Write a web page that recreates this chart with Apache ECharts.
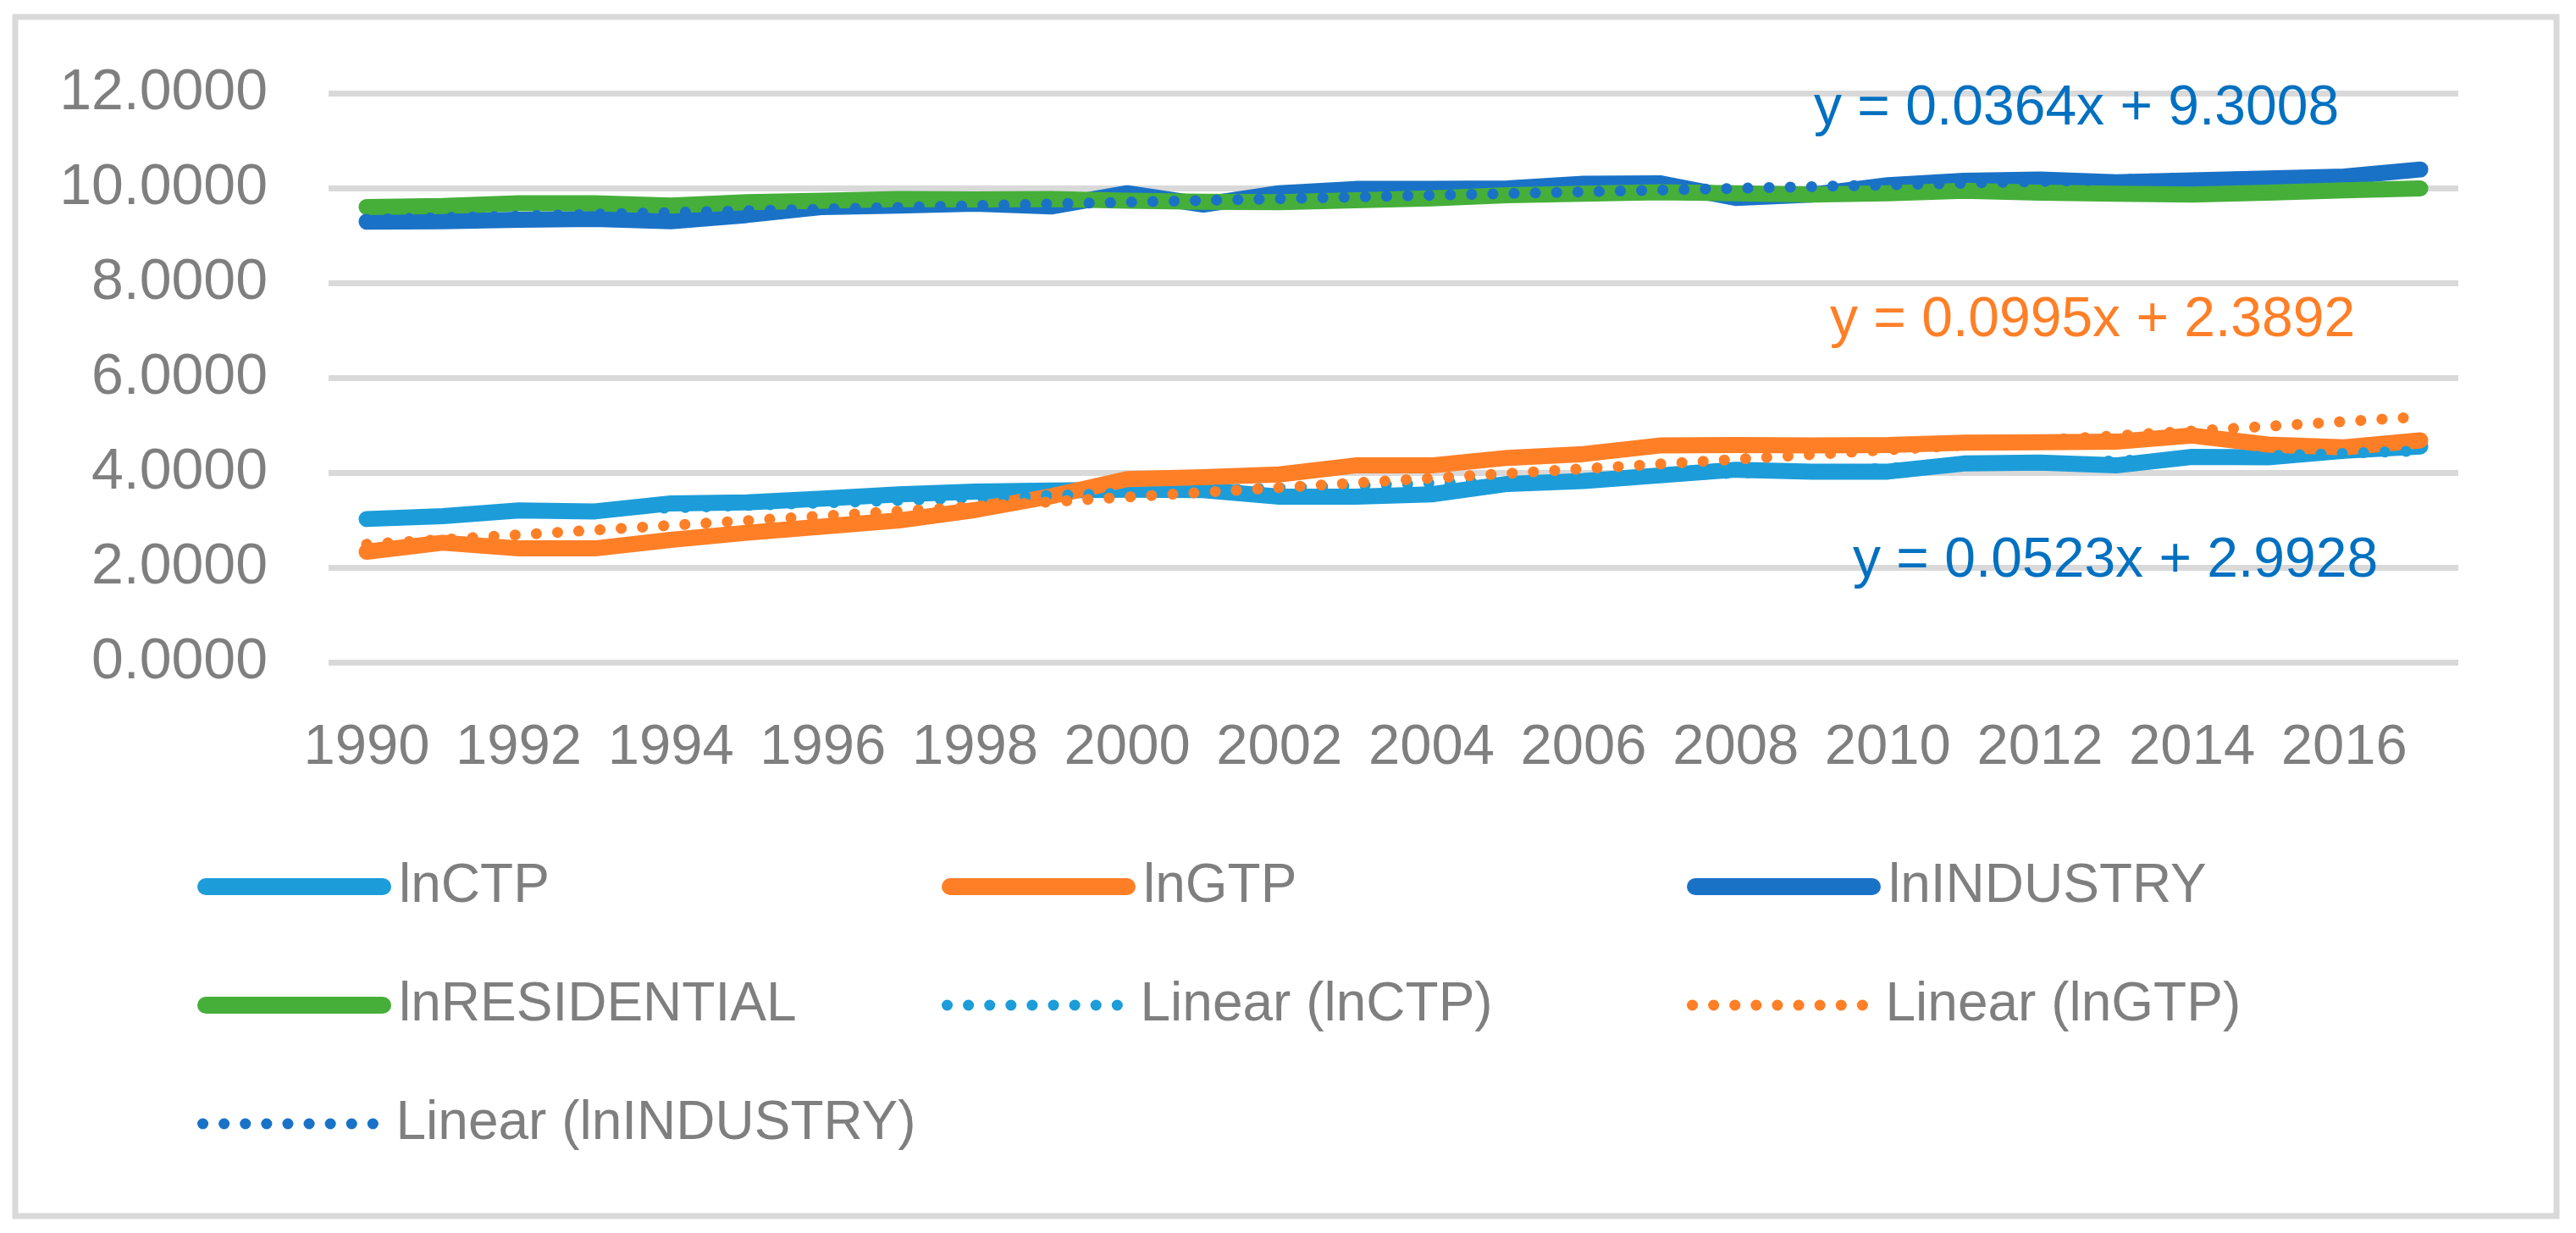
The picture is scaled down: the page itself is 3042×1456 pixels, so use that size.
<!DOCTYPE html>
<html>
<head>
<meta charset="utf-8">
<script src="https://cdn.jsdelivr.net/npm/echarts@6/dist/echarts.min.js"></script>
<style>
html,body{margin:0;padding:0;background:#ffffff;}
#chart{width:3042px;height:1456px;}
</style>
</head>
<body>
<div id="chart"></div>
<script>
// ---- data ----
const years = ['1990','1991','1992','1993','1994','1995','1996','1997','1998','1999',
               '2000','2001','2002','2003','2004','2005','2006','2007','2008','2009',
               '2010','2011','2012','2013','2014','2015','2016','2017'];
const lnCTP = [3.02,3.08,3.20,3.18,3.35,3.37,3.45,3.54,3.60,3.62,
               3.64,3.63,3.49,3.49,3.54,3.76,3.82,3.94,4.06,4.02,
               4.02,4.19,4.21,4.15,4.33,4.32,4.46,4.55];
const lnGTP = [2.33,2.52,2.40,2.40,2.58,2.73,2.86,2.99,3.21,3.50,
               3.86,3.90,3.96,4.15,4.15,4.31,4.39,4.57,4.58,4.57,
               4.58,4.63,4.64,4.65,4.78,4.59,4.53,4.68];
const lnINDUSTRY = [9.29,9.30,9.33,9.35,9.30,9.43,9.60,9.63,9.67,9.61,
                    9.89,9.65,9.89,9.98,9.98,9.99,10.09,10.10,9.79,9.86,
                    10.06,10.15,10.18,10.12,10.16,10.20,10.24,10.39];
const lnRESIDENTIAL = [9.60,9.62,9.68,9.68,9.63,9.70,9.73,9.77,9.76,9.77,
                       9.73,9.71,9.70,9.74,9.78,9.85,9.88,9.91,9.89,9.86,
                       9.89,9.94,9.90,9.88,9.86,9.90,9.95,9.99];
// trend lines as printed on the chart (x = 1..28)
const trendNames = ['Linear (lnCTP)','Linear (lnGTP)','Linear (lnINDUSTRY)'];
const trendSlope = [0.0523, 0.0995, 0.0364];
const trendIntercept = [2.9928, 2.3892, 9.3008];
const equationTexts = ['y = 0.0523x + 2.9928','y = 0.0995x + 2.3892','y = 0.0364x + 9.3008'];
const yMin = 0, yMax = 12, yStep = 2;

// ---- styling ----
const FONT = '"Liberation Sans", Arial, sans-serif';
const GRAY = '#7F7F7F';
const C_CTP = '#1C9DD9', C_GTP = '#FF7F27', C_IND = '#1A72C7', C_RES = '#46AF3A', C_EQ = '#0070C0';

function solid(name, data, color){
  return {name, type:'line', data, symbol:'none', showSymbol:false,
    lineStyle:{width:19, color, cap:'round', join:'round'},
    itemStyle:{color}, emphasis:{disabled:true}, silent:true, z:2};
}
function trend(i, color){
  const n = years.length;
  return {name: trendNames[i], type:'line',
    data: [[years[0], trendIntercept[i] + trendSlope[i]*1],
           [years[n-1], trendIntercept[i] + trendSlope[i]*n]],
    symbol:'none', showSymbol:false,
    lineStyle:{width:13, color, type:[0.1,25], cap:'round'},
    itemStyle:{color}, emphasis:{disabled:true}, silent:true, z:3};
}

const legendSpec = [
  ['lnCTP', 233, 1015, 20],
  ['lnGTP', 1112, 1015, 20],
  ['lnINDUSTRY', 1992, 1015, 20],
  ['lnRESIDENTIAL', 233, 1155, 20],
  ['Linear (lnCTP)', 1112, 1155, 13],
  ['Linear (lnGTP)', 1992, 1155, 13],
  ['Linear (lnINDUSTRY)', 233, 1295, 13]
];
const legends = legendSpec.map(([name, left, top, w]) => ({
  data:[name], left, top, padding:0, orient:'horizontal',
  itemWidth:209, itemHeight:20, selectedMode:false,
  lineStyle:{width:w},
  itemStyle:{opacity:0, borderWidth:0},
  textStyle:{fontFamily:FONT, fontSize:64, color:GRAY, padding:[0,0,0,14]}
}));

const eqPos = [[2188, 663, C_EQ],[2161, 379, C_GTP],[2142, 129, C_EQ]];

const chart = echarts.init(document.getElementById('chart'), null, {renderer:'canvas'});
chart.setOption({
  backgroundColor:'#ffffff',
  animation:false,
  grid:{left:388, right:139, top:110, bottom:674, containLabel:false},
  xAxis:{type:'category', data:years, boundaryGap:true,
    axisLine:{show:false}, axisTick:{show:false},
    axisLabel:{interval:1, margin:68, color:GRAY, fontFamily:FONT, fontSize:67},
    splitLine:{show:false}},
  yAxis:{type:'value', min:yMin, max:yMax, interval:yStep,
    axisLine:{show:false}, axisTick:{show:false},
    axisLabel:{margin:72, color:GRAY, fontFamily:FONT, fontSize:68,
      formatter:v => v.toFixed(4)},
    splitLine:{lineStyle:{color:'#D9D9D9', width:7}}},
  legend: legends,
  series:[
    solid('lnCTP', lnCTP, C_CTP),
    solid('lnGTP', lnGTP, C_GTP),
    solid('lnINDUSTRY', lnINDUSTRY, C_IND),
    solid('lnRESIDENTIAL', lnRESIDENTIAL, C_RES),
    trend(0, C_CTP),
    trend(1, C_GTP),
    trend(2, C_IND)
  ],
  graphic:[
    {type:'rect', shape:{x:18, y:20, width:3001, height:1416},
     style:{fill:null, stroke:'#D9D9D9', lineWidth:7}, silent:true, z:-1},
    ...equationTexts.map((t, i) => ({type:'text', left:eqPos[i][0], top:eqPos[i][1]-33,
      style:{text:t, fill:eqPos[i][2], font:'66px ' + FONT}, silent:true, z:10}))
  ]
});
</script>
</body>
</html>
